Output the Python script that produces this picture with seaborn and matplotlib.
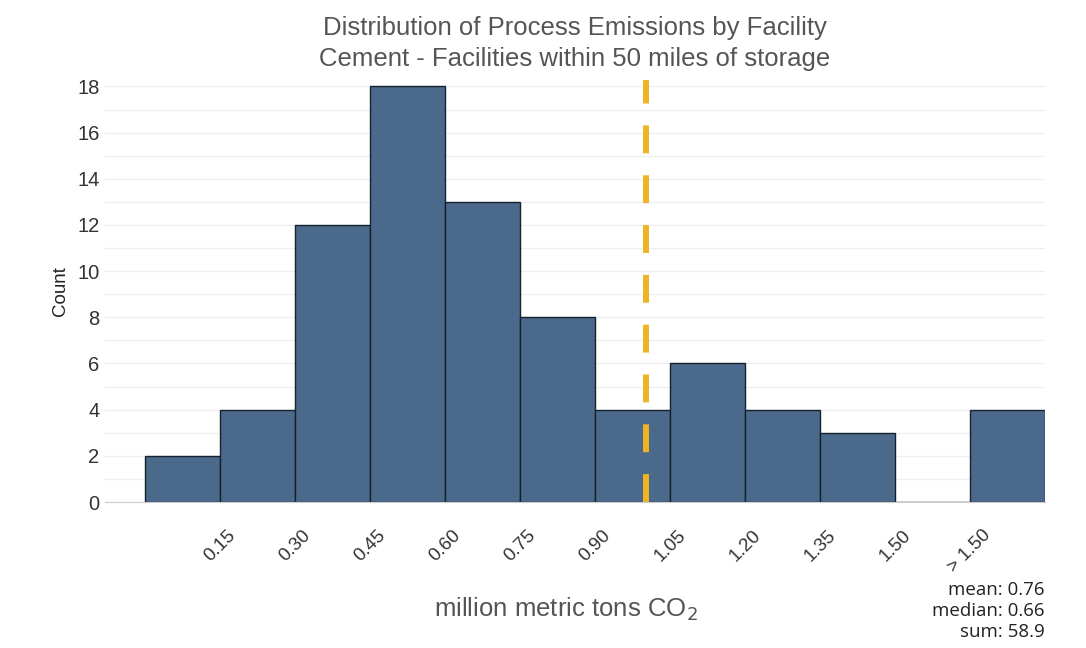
"""Histogram of process emissions by facility (cement)."""

import matplotlib.pyplot as plt
import numpy as np
import seaborn as sns
from matplotlib.ticker import MultipleLocator

sns.set_style("white")
plt.rcParams["font.family"] = ["Liberation Sans", "DejaVu Sans"]

# bin edges in million metric tons CO2; last bin holds everything > 1.50
bin_edges = [0.0, 0.15, 0.30, 0.45, 0.60, 0.75, 0.90, 1.05, 1.20, 1.35, 1.50, 1.65, 1.80]
counts = [2, 4, 12, 18, 13, 8, 4, 6, 4, 3, 0, 4]
tick_values = [0.15, 0.30, 0.45, 0.60, 0.75, 0.90, 1.05, 1.20, 1.35, 1.50, 1.65]
tick_labels = ["0.15", "0.30", "0.45", "0.60", "0.75", "0.90", "1.05", "1.20",
               "1.35", "1.50", "> 1.50"]
ref_line = 1.003
stats_text = "mean: 0.76\nmedian: 0.66\nsum: 58.9"

centers = [(a + b) / 2 for a, b in zip(bin_edges[:-1], bin_edges[1:])]

fig = plt.figure(figsize=(10.86, 6.48), dpi=100)
ax = fig.add_axes([0.0967, 0.2253, 0.8655, 0.652])

sns.histplot(
    x=centers,
    weights=counts,
    bins=bin_edges,
    color="#4b6a8b",
    edgecolor="#15212d",
    linewidth=1.0,
    alpha=1.0,
    ax=ax,
    zorder=2,
)

ax.axvline(ref_line, color="#eeb423", linewidth=4.3,
           linestyle=(0, (4.67, 3.67)), zorder=3)

ax.set_xlim(-0.08, 1.80)
ax.set_ylim(0, 18.3)
ax.set_xticks(tick_values)
ax.set_xticklabels(tick_labels, rotation=45, ha="center", va="top",
                   fontsize=13.5, color="#333333")
ax.set_yticks(np.arange(0, 19, 2))
ax.tick_params(axis="y", labelsize=14.5, colors="#333333", length=0, pad=4)
ax.tick_params(axis="x", length=4, color="#bbbbbb", pad=14)
ax.yaxis.set_minor_locator(MultipleLocator(1))
ax.grid(axis="y", which="both", color="#eeeeee", linewidth=0.9, zorder=0)
ax.set_axisbelow(True)

for side in ["top", "right", "left"]:
    ax.spines[side].set_visible(False)
ax.spines["bottom"].set_color("#cccccc")

ax.set_ylabel("Count", fontsize=13.5, color="#222222", labelpad=6)
ax.set_xlabel("million metric tons CO$_2$", fontsize=18.5, color="#555555")
ax.xaxis.set_label_coords(0.49, -0.222)
ax.set_title("Distribution of Process Emissions by Facility\n"
             "Cement - Facilities within 50 miles of storage",
             fontsize=18.5, color="#555555", pad=10, linespacing=1.35)

fig.text(0.962, 0.103, stats_text, ha="right", va="top", fontsize=13.5,
         color="#222222", linespacing=1.2, family=["Open Sans", "DejaVu Sans"])

fig.savefig("out.png", dpi=100)
